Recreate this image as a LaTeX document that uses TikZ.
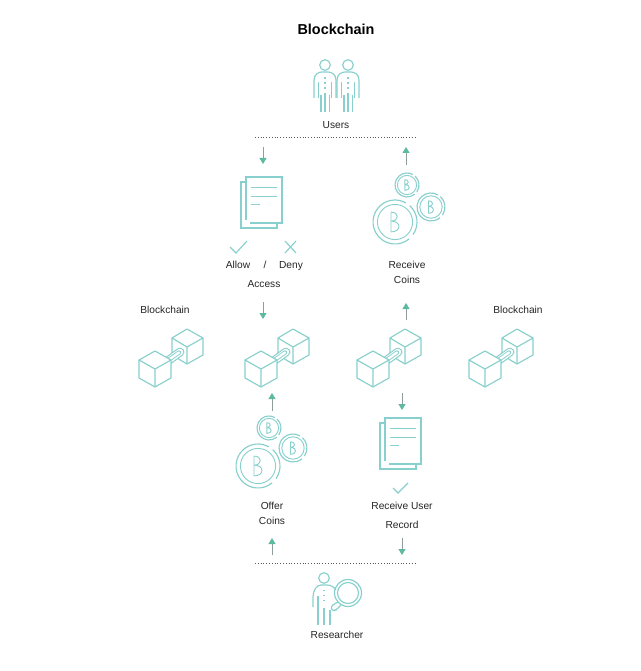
\documentclass[tikz,border=0pt]{standalone}
\usepackage{xcolor}
\usepackage{fontspec}
\setmainfont{Liberation Sans}
\usetikzlibrary{arrows.meta}

\definecolor{iconteal}{HTML}{88D0CD}
\definecolor{headgreen}{HTML}{5DB9A0}
\definecolor{shaftgrey}{HTML}{8E9C9C}

\tikzset{
  iconline/.style={draw=iconteal,line width=1.15pt},
  thinline/.style={draw=iconteal,line width=.9pt},
  flowarrow/.style={draw=shaftgrey,line width=.8pt,-{Triangle[color=headgreen,length=6pt,width=7pt]}},
  sepline/.style={draw=black!65,line width=.8pt,dotted},
  txt/.style={font=\fontsize{10.2}{12}\selectfont,text=black!85,inner sep=0pt,text height=7.4pt,text depth=0pt},
  % two linked cubes, origin in the middle of the left cube
  cubepair/.pic={
    \draw[iconline,fill=white,line join=round] (32,-42) -- (48,-33) -- (48,-16) -- (32,-7) -- (17,-16) -- (17,-33) -- cycle;
    \draw[iconline] (17,-33) -- (32,-24) -- (48,-33) (32,-24) -- (32,-7);
    \draw[iconline,double=white,double distance=6.5pt,line cap=round] (10,-8) -- (25,-19);
    \draw[thinline,double=white,double distance=2.4pt,line cap=round] (12,-10) -- (24,-18.5);
    \draw[iconline,fill=white,line join=round] (0,-20) -- (16,-11) -- (16,7) -- (0,16) -- (-16,7) -- (-16,-11) -- cycle;
    \draw[iconline] (-16,-11) -- (0,-2) -- (16,-11) (0,-2) -- (0,16);
  },
  % sheet of paper lying on a second one
  docstack/.pic={
    \draw[iconline] (0,5) -- (-5,5) -- (-5,51) -- (31,51) -- (31,46);
    \draw[iconline] (0,43) -- (0,0) -- (36,0) -- (36,46) -- (4,46);
    \draw[thinline] (5,10) -- (31,10) (5,19) -- (31,19) (5,27) -- (14,27);
  },
  % coin of radius 10, set its size with scale
  coin/.pic={
    \draw[thinline] (0,0) circle (8);
    \draw[iconline] (50:10) arc[start angle=50,end angle=300,radius=10];
    \draw[iconline] (312:10) arc[start angle=312,end angle=395,radius=10];
    \draw[thinline,line join=round] (-1.8,-4.5) -- (-1.8,4.5) .. controls (3,4.5) and (3,-.4) .. (-1.8,-.4)
      (-1.8,-.4) .. controls (2,-.4) and (2,-4.5) .. (-1.8,-4.5);
  },
  % standing figure, origin at the centre of the head
  person/.pic={
    \draw[iconline] (0,0) circle (5.3);
    \draw[iconline] (-6.5,33) -- (-6.5,17) (6.5,17) -- (6.5,33);
    \draw[iconline] (-11,33) -- (-11,15) .. controls (-11,9) and (-6,7) .. (-3,7) -- (3,7) .. controls (6,7) and (11,9) .. (11,15) -- (11,33);
    \draw[iconline] (-4,30) -- (-4,47) (0,28) -- (0,47) (4.5,30) -- (4.5,47);
    \draw[iconline,dash pattern=on 1.4pt off 3.6pt] (0,12.5) -- (0,25);
  },
}

\begin{document}
\begin{tikzpicture}[x=1pt,y=-1pt]
    \useasboundingbox (0,0) rectangle (640,671);
    \fill[white] (0,0) rectangle (640,671);

    % define coordinates
    \coordinate (usersL) at (255,137) ;
    \coordinate (usersR) at (415,137) ;
    \coordinate (resL) at (255,563) ;
    \coordinate (resR) at (416,563) ;
    \coordinate (A1) at (263,147) ;
    \coordinate (A2) at (263,164) ;
    \coordinate (B1) at (406,165) ;
    \coordinate (B2) at (406,147) ;
    \coordinate (C1) at (263,302) ;
    \coordinate (C2) at (263,319) ;
    \coordinate (D1) at (406,320) ;
    \coordinate (D2) at (406,303) ;
    \coordinate (E1) at (402,393) ;
    \coordinate (E2) at (402,410) ;
    \coordinate (F1) at (272,411) ;
    \coordinate (F2) at (272,393) ;
    \coordinate (G1) at (272,555) ;
    \coordinate (G2) at (272,538) ;
    \coordinate (H1) at (402,538) ;
    \coordinate (H2) at (402,555) ;

    % labels
    \node[txt,font=\fontsize{14.4}{16}\selectfont\bfseries,text=black,text height=10.5pt,text depth=0pt] (title) at (336,29) {Blockchain};
    \node[txt] (users) at (336,125) {Users};
    \node[txt] (allow) at (238,265) {Allow};
    \node[txt] (slash) at (265,265) {/};
    \node[txt] (deny) at (291,265) {Deny};
    \node[txt] (access) at (264,284) {Access};
    \node[txt] (chainL) at (165,310) {Blockchain};
    \node[txt] (chainR) at (518,310) {Blockchain};
    \node[txt] (receive) at (407,265) {Receive};
    \node[txt] (coinsR) at (407,280) {Coins};
    \node[txt] (offer) at (272,506) {Offer};
    \node[txt] (coinsO) at (272,521) {Coins};
    \node[txt] (recUser) at (402,506) {Receive User};
    \node[txt] (record) at (402,525) {Record};
    \node[txt] (researcher) at (337,635) {Researcher};

    % icons
    \pic (personA) at (325,65) {person};
    \pic (personB) at (348,65) {person};
    \pic (docTop) at (246,177) {docstack};
    \pic (docBottom) at (385,418) {docstack};
    \pic[scale=2.2] (coinRa) at (395,222) {coin};
    \pic[scale=1.4] (coinRb) at (431,207) {coin};
    \pic[scale=1.2] (coinRc) at (407,185) {coin};
    \pic[scale=2.2] (coinOa) at (258,466) {coin};
    \pic[scale=1.4] (coinOb) at (293,448) {coin};
    \pic[scale=1.2] (coinOc) at (269,428) {coin};
    \pic (cubeA) at (155,371) {cubepair};
    \pic (cubeB) at (261,371) {cubepair};
    \pic (cubeC) at (373,371) {cubepair};
    \pic (cubeD) at (485,371) {cubepair};

    % ticks and cross
    \draw[iconline] (230,247) -- (236,253) -- (247,241);
    \draw[iconline] (285,241) -- (296,253) (296,241) -- (285,253);
    \draw[iconline] (393,488) -- (398,493) -- (408,483);

    % researcher with lens
    \draw[iconline] (324,578) circle (5.3);
    \draw[iconline] (313,607) -- (313,597) .. controls (313,590) and (317,585) .. (321,585) -- (327,585) .. controls (331,585) and (334,587) .. (336,590);
    \draw[iconline] (318,596) -- (318,625) (324,608) -- (324,625) (330,610) -- (330,625);
    \draw[iconline,dash pattern=on 1.4pt off 3.6pt] (324,590) -- (324,604);
    \draw[iconline] (348,593) circle (13.5);
    \draw[iconline] (348,593) circle (10.5);
    \draw[iconline,rounded corners=2.5pt] (338,602) -- (331,606) -- (332,611) -- (336,610) -- (341,605);

    % separators
    \draw[sepline] (usersL) -- (usersR);
    \draw[sepline] (resL) -- (resR);

    % arrows
    \draw[flowarrow] (A1) -- (A2);
    \draw[flowarrow] (B1) -- (B2);
    \draw[flowarrow] (C1) -- (C2);
    \draw[flowarrow] (D1) -- (D2);
    \draw[flowarrow] (E1) -- (E2);
    \draw[flowarrow] (F1) -- (F2);
    \draw[flowarrow] (G1) -- (G2);
    \draw[flowarrow] (H1) -- (H2);
    \end{tikzpicture}
\end{document}
